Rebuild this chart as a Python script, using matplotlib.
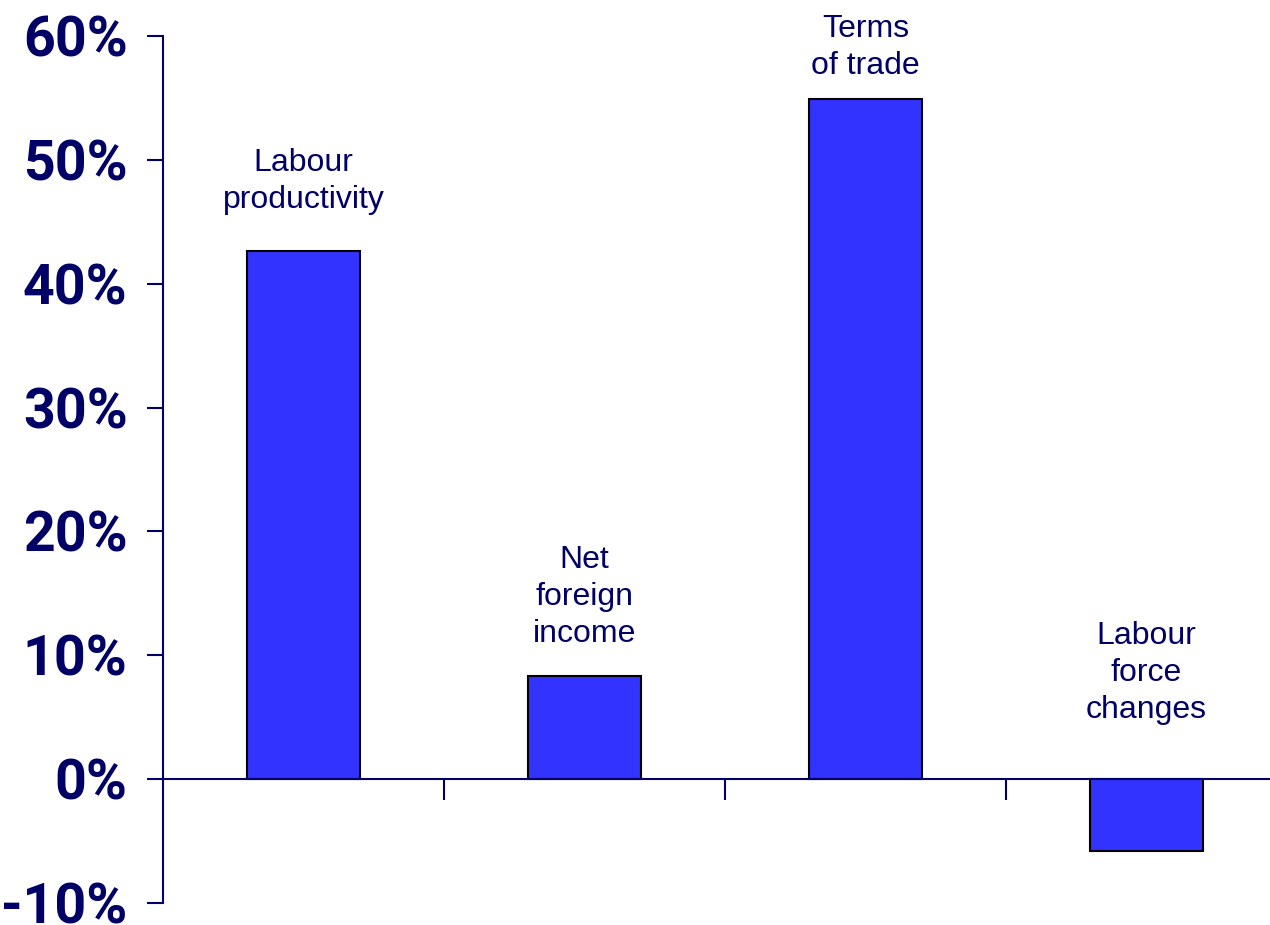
import matplotlib
matplotlib.use("Agg")
import matplotlib.pyplot as plt
from matplotlib.ticker import FuncFormatter

# contribution of each source to income growth, in percent
categories = ["Labour\nproductivity", "Net\nforeign\nincome", "Terms\nof trade", "Labour\nforce\nchanges"]
values = [42.6, 8.3, 54.9, -5.8]
yticks = [-10, 0, 10, 20, 30, 40, 50, 60]

NAVY = "#000066"
BAR = "#3333FF"
label_gap = [26, 20, 13, 39]  # points between bar top and its caption

fig = plt.figure(figsize=(12.7, 9.25), dpi=100)
ax = fig.add_axes([0.1283, 0.0238, 0.8717, 0.9373])

x = list(range(len(values)))
ax.bar(x, values, width=0.4, color=BAR, edgecolor="black", linewidth=1.5, zorder=2)

for xi, v, name, gap in zip(x, values, categories, label_gap):
    ax.annotate(name, xy=(xi, max(v, 0)), xytext=(0, gap), textcoords="offset points",
                ha="center", va="bottom", fontsize=23, color=NAVY,
                family=["Liberation Sans", "DejaVu Sans"], linespacing=1.3)

ax.set_xlim(-0.5, 3.44)
ax.set_ylim(-10, 60)
ax.set_yticks(yticks)
ax.yaxis.set_major_formatter(FuncFormatter(lambda v, _: f"{v:.0f}%"))
ax.set_xticks([0.5, 1.5, 2.5])
ax.set_xticklabels([])

for side in ["top", "right"]:
    ax.spines[side].set_visible(False)
ax.spines["bottom"].set_position(("data", 0))
for side in ["left", "bottom"]:
    ax.spines[side].set_color(NAVY)
    ax.spines[side].set_linewidth(1.5)
    ax.spines[side].set_zorder(3)

ax.tick_params(axis="y", direction="out", length=11.5, width=1.5, color=NAVY, pad=14)
ax.tick_params(axis="x", direction="out", length=15, width=1.5, color=NAVY)
for lbl in ax.get_yticklabels():
    lbl.set_family(["Roboto", "Liberation Sans"])
    lbl.set_fontweight("bold")
    lbl.set_fontsize(40)
    lbl.set_color(NAVY)

fig.savefig("out.png", dpi=100)
